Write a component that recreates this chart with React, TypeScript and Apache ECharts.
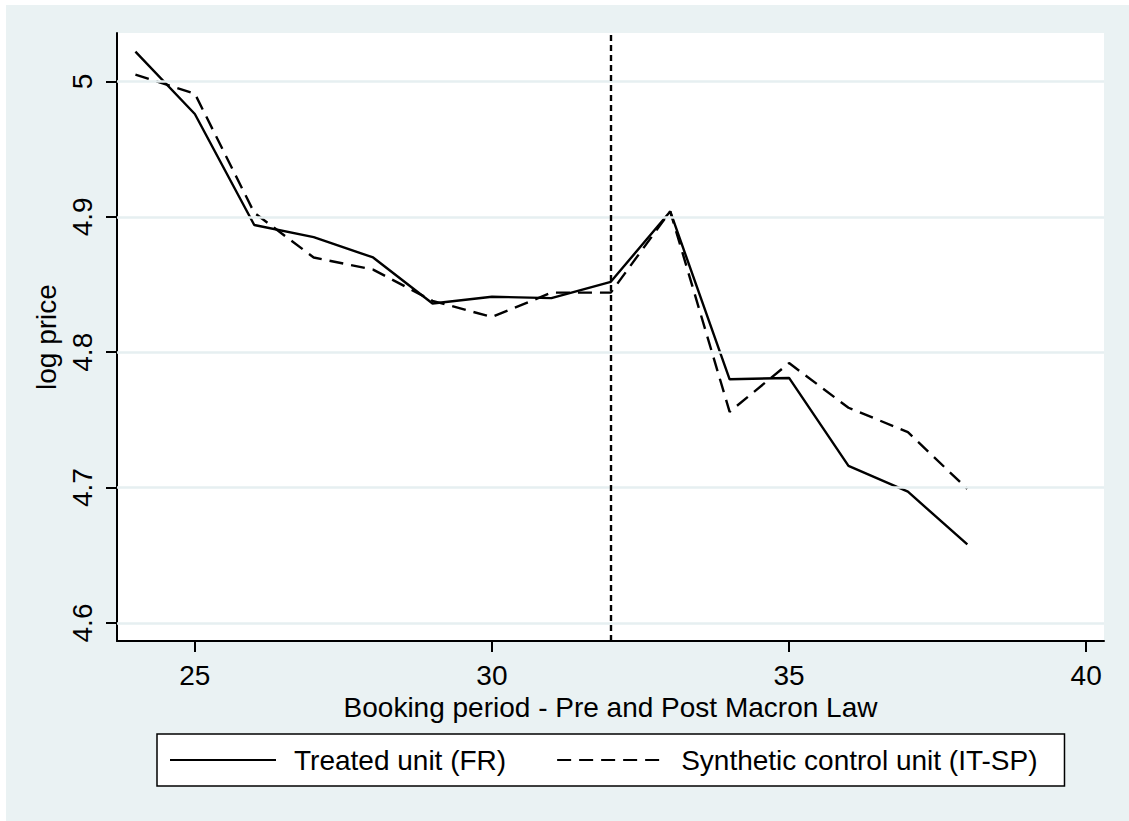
import React, { useEffect, useRef } from "react";
import * as echarts from "echarts";

const periods = [24, 25, 26, 27, 28, 29, 30, 31, 32, 33, 34, 35, 36, 37, 38];
const treated = [5.022, 4.976, 4.894, 4.885, 4.87, 4.836, 4.841, 4.84, 4.852, 4.904, 4.78, 4.781, 4.716, 4.697, 4.658];
const synthetic = [5.005, 4.991, 4.903, 4.87, 4.861, 4.838, 4.826, 4.844, 4.844, 4.904, 4.756, 4.792, 4.759, 4.741, 4.699];
const xTicks = [25, 30, 35, 40];
const yTicks = [4.6, 4.7, 4.8, 4.9, 5];
const treatmentPeriod = 32;
const seriesNames = ["Treated unit (FR)", "Synthetic control unit (IT-SP)"];
const xTitle = "Booking period - Pre and Post Macron Law";
const yTitle = "log price";

const FONT = "'Liberation Sans', Arial, sans-serif";
const BG = "#eaf2f3";
const GRID = "#e6eff1";

export default function App() {
  const ref = useRef<HTMLDivElement>(null);
  useEffect(() => {
    document.body.style.margin = "0";
    const chart = echarts.init(ref.current!, null, { renderer: "svg" });
    const pairs = (ys: number[]) => periods.map((p, i) => [p, ys[i]]);
    chart.setOption({
      animation: false,
      backgroundColor: "#ffffff",
      graphic: [
        {
          type: "rect",
          left: 6,
          top: 5,
          shape: { width: 1123, height: 816 },
          style: { fill: BG },
          z: -10,
          silent: true,
        },
      ],
      grid: {
        left: 117,
        top: 33,
        right: 25,
        bottom: 180,
        show: true,
        backgroundColor: "#ffffff",
        borderWidth: 0,
        containLabel: false,
      },
      xAxis: {
        type: "value",
        min: 23.69,
        max: 40.3,
        name: xTitle,
        nameLocation: "middle",
        nameGap: 45,
        nameTextStyle: { fontFamily: FONT, fontSize: 28, color: "#000", lineHeight: 28 },
        axisLine: { show: true, onZero: false, lineStyle: { color: "#000", width: 2 } },
        axisTick: { show: true, length: 11, inside: false, customValues: xTicks, lineStyle: { color: "#000", width: 2 } },
        axisLabel: { customValues: xTicks, margin: 20, fontFamily: FONT, fontSize: 28, color: "#000", lineHeight: 28 },
        splitLine: { show: false },
      },
      yAxis: {
        type: "value",
        min: 4.5867,
        max: 5.0358,
        name: yTitle,
        nameLocation: "middle",
        nameGap: 51,
        nameRotate: 90,
        nameTextStyle: { fontFamily: FONT, fontSize: 28, color: "#000", lineHeight: 28 },
        axisLine: { show: true, onZero: false, lineStyle: { color: "#000", width: 2 } },
        axisTick: { show: true, length: 11, inside: false, customValues: yTicks, lineStyle: { color: "#000", width: 2 } },
        axisLabel: {
          customValues: yTicks,
          rotate: 90,
          margin: 21,
          fontFamily: FONT,
          fontSize: 28,
          color: "#000",
          lineHeight: 28,
          formatter: (v: number) => String(Number(v.toFixed(1))),
        },
        splitLine: { show: false },
      },
      legend: {
        left: 157,
        top: 734,
        orient: "horizontal",
        data: seriesNames,
        itemWidth: 106,
        itemHeight: 14,
        itemGap: 50,
        padding: [12, 27, 12, 12],
        backgroundColor: "#ffffff",
        borderColor: "#000",
        borderWidth: 1.5,
        borderRadius: 0,
        selectedMode: false,
        itemStyle: { opacity: 0 },
        textStyle: { fontFamily: FONT, fontSize: 28, color: "#000", lineHeight: 28, padding: [0, 0, 0, 13] },
      },
      series: [
        {
          name: "gridlines",
          type: "line",
          data: pairs(treated),
          showSymbol: false,
          symbol: "none",
          lineStyle: { opacity: 0 },
          silent: true,
          z: 1,
          markLine: {
            silent: true,
            symbol: ["none", "none"],
            label: { show: false },
            lineStyle: { color: GRID, width: 2.5, type: "solid" },
            data: yTicks.map((v) => ({ yAxis: v })),
          },
        },
        {
          name: seriesNames[0],
          type: "line",
          data: pairs(treated),
          symbol: "none",
          showSymbol: false,
          color: "#000",
          lineStyle: { color: "#000", width: 2.4, type: "solid" },
          z: 3,
          markLine: {
            silent: true,
            symbol: ["none", "none"],
            label: { show: false },
            lineStyle: { color: "#000", width: 2.4, type: [6, 4] },
            data: [{ xAxis: treatmentPeriod }],
          },
        },
        {
          name: seriesNames[1],
          type: "line",
          data: pairs(synthetic),
          symbol: "none",
          showSymbol: false,
          color: "#000",
          lineStyle: { color: "#000", width: 2.4, type: [14, 8] },
          z: 3,
        },
      ],
    });
    return () => chart.dispose();
  }, []);
  return <div ref={ref} style={{ width: 1129, height: 821 }} />;
}
